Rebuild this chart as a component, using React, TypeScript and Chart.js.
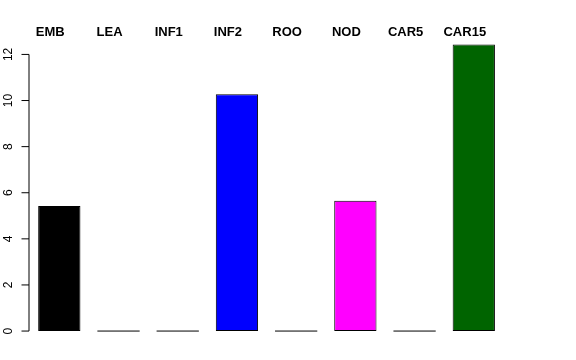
import React, { useEffect, useRef } from "react";
import { Chart, registerables } from "chart.js";

Chart.register(...registerables);

const categories = ["EMB", "LEA", "INF1", "INF2", "ROO", "NOD", "CAR5", "CAR15"];
const values = [5.43, 0, 0, 10.27, 0, 5.65, 0, 12.43];
const barColors = ["#000000", "#FF0000", "#00CD00", "#0000FF", "#00FFFF", "#FF00FF", "#FFFF00", "#006400"];
const yTicks = [0, 2, 4, 6, 8, 10, 12];

const rAxisPlugin = {
  id: "rAxis",
  afterDatasetsDraw(chart: any) {
    const ctx = chart.ctx;
    const y = chart.scales.y;
    const meta = chart.getDatasetMeta(0);
    ctx.save();
    // zero-height bars drawn as a line, like R's rect()
    ctx.strokeStyle = "#000000";
    ctx.lineWidth = 1;
    meta.data.forEach((bar: any, i: number) => {
      if (values[i] === 0) {
        const y0 = y.getPixelForValue(0);
        ctx.beginPath();
        ctx.moveTo(bar.x - bar.width / 2, y0);
        ctx.lineTo(bar.x + bar.width / 2, y0);
        ctx.stroke();
      }
    });
    // left axis
    const ax = 29;
    const top = y.getPixelForValue(yTicks[yTicks.length - 1]);
    const bot = y.getPixelForValue(yTicks[0]);
    ctx.beginPath();
    ctx.moveTo(ax, top);
    ctx.lineTo(ax, bot);
    ctx.stroke();
    ctx.font = "12px 'Liberation Sans', Arial, sans-serif";
    ctx.fillStyle = "#000000";
    ctx.textAlign = "center";
    ctx.textBaseline = "middle";
    yTicks.forEach((t) => {
      const py = y.getPixelForValue(t);
      ctx.beginPath();
      ctx.moveTo(ax, py);
      ctx.lineTo(ax - 7.5, py);
      ctx.stroke();
      ctx.save();
      ctx.translate(8.5, py);
      ctx.rotate(-Math.PI / 2);
      ctx.fillText(String(t), 0, 0);
      ctx.restore();
    });
    ctx.restore();
  },
};

export default function App() {
  const ref = useRef<HTMLCanvasElement | null>(null);
  useEffect(() => {
    document.body.style.margin = "0";
    const chart = new Chart(ref.current as HTMLCanvasElement, {
      type: "bar",
      data: {
        labels: categories,
        datasets: [
          {
            data: values,
            backgroundColor: barColors,
            borderColor: "#000000",
            borderWidth: 1,
            borderSkipped: false,
            categoryPercentage: 1,
            barPercentage: 0.714,
          },
        ],
      },
      options: {
        responsive: false,
        animation: false,
        layout: { padding: { left: 29.7, right: 72.6, top: 22.4, bottom: 20 } },
        plugins: { legend: { display: false }, tooltip: { enabled: false } },
        scales: {
          x: {
            position: "top",
            grid: { display: false, drawTicks: false },
            border: { display: false },
            ticks: {
              color: "#000000",
              padding: 2,
              labelOffset: -9,
              maxRotation: 0,
              autoSkip: false,
              font: { family: "'Liberation Sans', Arial, sans-serif", size: 13, weight: "bold" },
            },
          },
          y: {
            display: false,
            min: -0.388,
            max: 12.539,
            bounds: "data",
          },
        },
      },
      plugins: [rAxisPlugin],
    });
    return () => chart.destroy();
  }, []);
  return (
    <div style={{ width: 576, height: 360 }}>
      <canvas ref={ref} width={576} height={360} />
    </div>
  );
}
